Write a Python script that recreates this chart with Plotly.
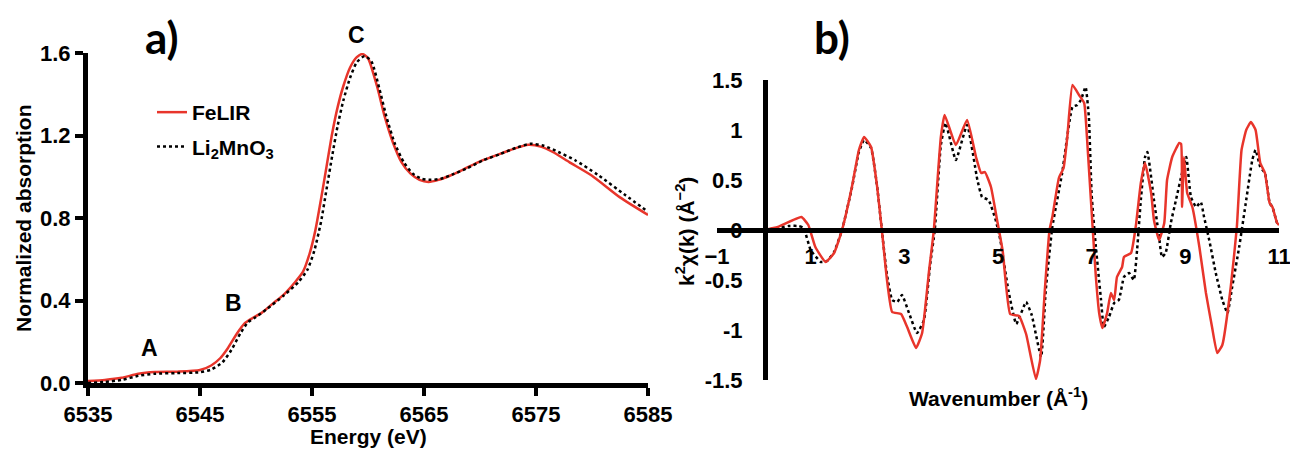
import plotly.graph_objects as go

# ---------------- a) XANES: normalized absorption vs energy ----------------
felir_energy = [6535, 6536.5, 6538, 6539.5, 6541, 6543, 6545, 6546, 6546.8, 6547.5,
                6548.3, 6549, 6549.7, 6550.5, 6551.5, 6552.5, 6553.5, 6554.2, 6554.8,
                6555.3, 6555.8, 6556.3, 6556.8, 6557.3, 6557.8, 6558.4, 6559, 6559.5,
                6560, 6560.8, 6561.5, 6562.2, 6563, 6563.8, 6564.6, 6565.4, 6566.3,
                6567.3, 6568.5, 6570, 6571.5, 6573, 6574.3, 6575.5, 6576.5, 6578,
                6580, 6582.5, 6585]
felir_mu = [0.010, 0.015, 0.025, 0.045, 0.053, 0.055, 0.063, 0.085, 0.12, 0.17,
            0.24, 0.29, 0.315, 0.34, 0.385, 0.43, 0.49, 0.54, 0.63,
            0.74, 0.89, 1.05, 1.21, 1.34, 1.44, 1.53, 1.58, 1.595,
            1.575, 1.44, 1.29, 1.17, 1.07, 1.015, 0.985, 0.975, 0.985,
            1.005, 1.035, 1.075, 1.105, 1.135, 1.155, 1.145, 1.12, 1.07,
            1.005, 0.90, 0.815]

li2mno3_energy = [6535, 6536.5, 6538, 6539.5, 6541, 6543, 6545, 6546, 6547, 6547.8,
                  6548.6, 6549.3, 6550, 6551, 6552.5, 6553.8, 6554.6, 6555.2, 6555.8,
                  6556.3, 6556.8, 6557.3, 6557.8, 6558.4, 6559, 6559.7, 6560.3, 6561,
                  6561.7, 6562.4, 6563.2, 6564, 6564.8, 6565.6, 6566.5, 6567.5, 6568.8,
                  6570.3, 6571.8, 6573.2, 6574.5, 6575.7, 6577, 6578.5, 6580.5, 6583,
                  6585]
li2mno3_mu = [0.0, 0.005, 0.015, 0.035, 0.045, 0.048, 0.052, 0.065, 0.10, 0.16,
              0.24, 0.295, 0.32, 0.36, 0.425, 0.49, 0.55, 0.64, 0.78,
              0.94, 1.10, 1.25, 1.37, 1.48, 1.555, 1.585, 1.56, 1.43,
              1.28, 1.16, 1.07, 1.015, 0.99, 0.985, 0.99, 1.01, 1.04,
              1.08, 1.11, 1.14, 1.16, 1.15, 1.12, 1.08, 1.01, 0.91,
              0.83]

energy_ticks = [6535, 6545, 6555, 6565, 6575, 6585]
absorption_ticks = [0.0, 0.4, 0.8, 1.2, 1.6]

# ---------------- b) EXAFS: k^2 chi(k) vs wavenumber ----------------
felir_k = [0.0, 0.3, 0.8, 0.95, 1.1, 1.32, 1.5, 1.67, 1.88, 2.03, 2.14, 2.29, 2.42, 2.52,
           2.63, 2.74, 2.93, 3.06, 3.25, 3.38, 3.53, 3.63, 3.78, 3.86, 4.1, 4.34, 4.53,
           4.64, 4.72, 4.85, 4.98, 5.1, 5.26, 5.45, 5.6, 5.81, 5.9, 6.0, 6.1, 6.16, 6.3,
           6.4, 6.48, 6.59, 6.73, 6.84, 6.91, 7.02, 7.09, 7.16, 7.23, 7.33, 7.41, 7.48,
           7.54, 7.65, 7.69, 7.84, 7.94, 8.05, 8.14, 8.27, 8.33, 8.44, 8.55, 8.61, 8.72,
           8.87, 8.91, 8.93, 8.97, 9.04, 9.15, 9.3, 9.44, 9.57, 9.68, 9.79, 9.97, 10.1,
           10.2, 10.3, 10.4, 10.5, 10.6, 10.7, 10.8, 10.86, 10.96, 11.0]
felir_chi = [0.0, 0.03, 0.13, 0.05, -0.17, -0.32, -0.23, 0.0, 0.43, 0.8, 0.93, 0.83, 0.43, 0.0,
             -0.5, -0.82, -0.84, -0.97, -1.18, -1.03, -0.4, 0.0, 0.93, 1.15, 0.85, 1.1, 0.73,
             0.57, 0.58, 0.43, 0.1, -0.21, -0.84, -0.86, -1.04, -1.49, -1.3, -0.6, 0.0, 0.13, 0.52,
             0.62, 0.93, 1.45, 1.35, 1.27, 0.85, 0.03, -0.47, -0.83, -0.98, -0.83, -0.63, -0.70,
             -0.47, -0.37, -0.27, -0.23, 0.03, 0.47, 0.67, 0.37, 0.1, -0.1, 0.07, 0.5, 0.73,
             0.87, 0.86, 0.23, 0.73, 0.37, 0.23, -0.17, -0.63, -0.97, -1.23, -1.15, -0.57, 0.03,
             0.8, 1.0, 1.08, 1.0, 0.67, 0.57, 0.27, 0.23, 0.07, 0.05]

li2mno3_k = [0.0, 0.3, 0.53, 0.75, 0.85, 1.0, 1.22, 1.35, 1.5, 1.67, 1.88, 2.03, 2.14, 2.29,
             2.42, 2.52, 2.63, 2.74, 2.85, 2.95, 3.1, 3.27, 3.42, 3.55, 3.65, 3.78, 3.88, 4.1,
             4.34, 4.56, 4.66, 4.8, 4.95, 5.05, 5.22, 5.39, 5.6, 5.72, 5.92, 6.02, 6.16, 6.37,
             6.59, 6.69, 6.77, 6.87, 6.94, 7.0, 7.09, 7.2, 7.26, 7.37, 7.48, 7.58, 7.69, 7.8,
             7.9, 7.97, 8.05, 8.14, 8.19, 8.33, 8.44, 8.5, 8.58, 8.69, 8.8, 8.93, 9.02, 9.12,
             9.23, 9.33, 9.4, 9.51, 9.65, 9.79, 9.9, 10.0, 10.15, 10.3, 10.43, 10.5, 10.6, 10.7,
             10.8, 10.86, 10.96, 11.0]
li2mno3_chi = [0.0, 0.02, 0.04, 0.04, 0.02, -0.2, -0.32, -0.31, -0.22, 0.0, 0.42, 0.78, 0.9, 0.82,
               0.43, 0.0, -0.45, -0.7, -0.72, -0.65, -0.83, -1.03, -0.9, -0.35, 0.0, 0.85, 1.07, 0.7,
               1.05, 0.5, 0.33, 0.3, 0.1, -0.1, -0.6, -0.94, -0.72, -0.85, -1.27, -0.6, 0.03, 0.57,
               1.23, 1.25, 1.3, 1.43, 1.13, 0.35, -0.17, -0.7, -0.97, -0.87, -0.73, -0.7, -0.47, -0.43,
               -0.5, -0.2, 0.3, 0.73, 0.78, 0.3, -0.07, -0.27, -0.23, 0.07, 0.3, 0.57, 0.73, 0.33,
               0.23, 0.28, 0.13, -0.1, -0.43, -0.7, -0.83, -0.57, -0.17, 0.3, 0.7, 0.8, 0.63, 0.57,
               0.27, 0.23, 0.07, 0.05]

k_ticks = [-1, 1, 3, 5, 7, 9, 11]
chi_ticks = [-1.5, -1, -0.5, 0, 0.5, 1, 1.5]
chi_tick_text = ["-1.5", "-1", "-0.5", "0", "0.5", "1", "1.5"]

RED = "#e8352b"
FONT = "Liberation Sans, Arial, sans-serif"
W, H = 1290, 451


def px_x(p):
    return p / W


def px_y(p):
    return 1 - p / H


fig = go.Figure()

fig.add_trace(go.Scatter(x=felir_energy, y=felir_mu, name="FeLIR", mode="lines",
                         line=dict(color=RED, width=2.5, shape="spline", smoothing=0.6),
                         xaxis="x", yaxis="y", legendgroup="a"))
fig.add_trace(go.Scatter(x=li2mno3_energy, y=li2mno3_mu, name="Li<sub>2</sub>MnO<sub>3</sub>",
                         mode="lines",
                         line=dict(color="black", width=2.5, dash="dot", shape="spline", smoothing=0.6),
                         xaxis="x", yaxis="y", legendgroup="b"))

fig.add_trace(go.Scatter(x=li2mno3_k, y=li2mno3_chi, mode="lines", showlegend=False,
                         line=dict(color="black", width=2.5, dash="dot", shape="spline", smoothing=0.4),
                         xaxis="x2", yaxis="y2"))
fig.add_trace(go.Scatter(x=felir_k, y=felir_chi, mode="lines", showlegend=False,
                         line=dict(color=RED, width=2.5, shape="spline", smoothing=0.4),
                         xaxis="x2", yaxis="y2"))

tick_font = dict(family=FONT, size=22, color="black", weight="bold")

fig.update_layout(
    width=W, height=H,
    margin=dict(l=0, r=0, t=0, b=0, pad=0, autoexpand=False),
    paper_bgcolor="white", plot_bgcolor="white",
    font=dict(family=FONT, color="black"),
    xaxis=dict(domain=[px_x(88), px_x(648)], range=[6535, 6585], tickvals=energy_ticks,
               showline=True, linewidth=5, linecolor="black", mirror=False,
               ticks="outside", ticklen=8, tickwidth=4, tickcolor="black",
               showgrid=False, zeroline=False, anchor="y", tickfont=tick_font,
               automargin=False, ticklabeloverflow="allow"),
    yaxis=dict(domain=[px_y(383), px_y(53)], range=[0, 1.6], tickvals=absorption_ticks,
               tickformat=".1f",
               showline=True, linewidth=5, linecolor="black",
               ticks="outside", ticklen=8, tickwidth=4, tickcolor="black",
               showgrid=False, zeroline=False, anchor="x", tickfont=tick_font,
               automargin=False, ticklabeloverflow="allow"),
    xaxis2=dict(domain=[px_x(717), px_x(1279)], range=[-1, 11], tickvals=k_ticks,
                showline=True, linewidth=5, linecolor="black",
                ticks="outside", ticklen=5, tickcolor="rgba(0,0,0,0)",
                showgrid=False, zeroline=False, anchor="free", position=px_y(230),
                tickfont=tick_font, automargin=False, ticklabeloverflow="allow"),
    yaxis2=dict(domain=[px_y(380), px_y(80)], range=[-1.5, 1.5], tickvals=chi_ticks,
                ticktext=chi_tick_text,
                showline=True, linewidth=5, linecolor="black",
                ticks="outside", ticklen=16, tickcolor="rgba(0,0,0,0)",
                showgrid=False, zeroline=False, anchor="free", position=px_x(765),
                tickfont=tick_font, automargin=False, ticklabeloverflow="allow"),
    legend=dict(x=px_x(152), y=px_y(92), xanchor="left", yanchor="top",
                bgcolor="rgba(0,0,0,0)", tracegroupgap=4,
                font=dict(family=FONT, size=21, color="black", weight="bold")),
    showlegend=True,
)

title_font = dict(family=FONT, size=21, color="black", weight="bold")
panel_font = dict(family="Lato, Liberation Sans, sans-serif", size=44, color="black", weight="bold")
peak_font = dict(family=FONT, size=23, color="black", weight="bold")

centered = dict(showarrow=False, xanchor="center", yanchor="middle")

annotations = [
    dict(text="a)", x=px_x(162), y=px_y(37), xref="paper", yref="paper", font=panel_font, **centered),
    dict(text="b)", x=px_x(832), y=px_y(37), xref="paper", yref="paper", font=panel_font, **centered),
    dict(text="A", x=6540.5, y=0.17, xref="x", yref="y", font=peak_font, **centered),
    dict(text="B", x=6548.0, y=0.39, xref="x", yref="y", font=peak_font, **centered),
    dict(text="C", x=6559.0, y=1.6, yshift=18, xref="x", yref="y", font=peak_font, **centered),
    dict(text="Normalized absorption", x=px_x(23), y=px_y(218), xref="paper", yref="paper",
         textangle=-90, font=title_font, **centered),
    dict(text="Energy (eV)", x=px_x(368), y=px_y(436), xref="paper", yref="paper",
         font=title_font, **centered),
    dict(text="k<sup>2</sup>χ(k) (Å<sup>−2</sup>)", x=px_x(685), y=px_y(232), xref="paper",
         yref="paper", textangle=-90, font=title_font, **centered),
    dict(text="Wavenumber (Å<sup>-1</sup>)", x=px_x(998), y=px_y(397), xref="paper",
         yref="paper", font=title_font, **centered),
]
fig.update_layout(annotations=annotations)

fig.write_html("out.html")
